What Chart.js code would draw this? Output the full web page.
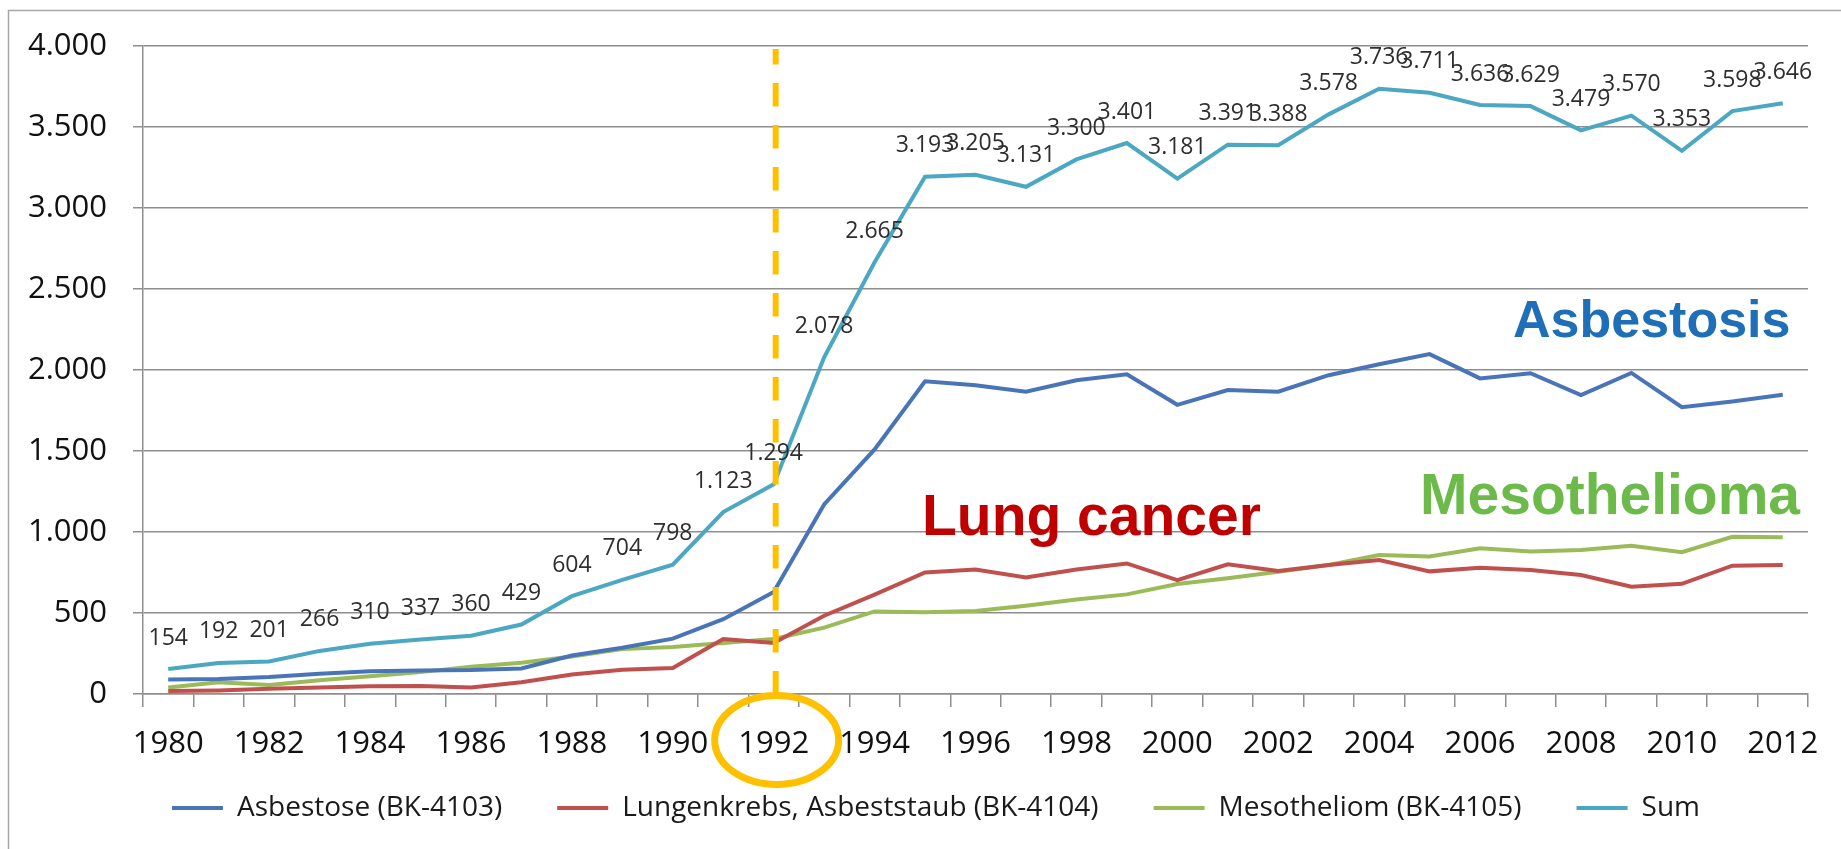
<!DOCTYPE html>
<html>
<head>
<meta charset="utf-8">
<script src="https://cdn.jsdelivr.net/npm/chart.js@4.4.1/dist/chart.umd.min.js"></script>
<style>
  html, body { margin: 0; padding: 0; background: #ffffff; }
  #wrap { position: relative; width: 1841px; height: 849px; }
  canvas { display: block; }
</style>
</head>
<body>
<div id="wrap"><canvas id="c" width="1841" height="849"></canvas></div>
<script>
// ---- data ----
const years = [1980,1981,1982,1983,1984,1985,1986,1987,1988,1989,1990,1991,1992,1993,1994,1995,1996,1997,1998,1999,2000,2001,2002,2003,2004,2005,2006,2007,2008,2009,2010,2011,2012];
const asbestose = [90,92,105,125,140,145,148,158,238,285,342,462,630,1170,1510,1930,1906,1866,1937,1974,1785,1876,1866,1968,2035,2098,1948,1980,1845,1982,1770,1806,1847];
const lungenkrebs = [18,22,32,40,48,50,40,72,120,150,160,340,315,483,613,750,769,720,769,806,703,801,760,796,827,757,779,765,734,662,680,792,797];
const mesotheliom = [40,72,55,85,110,135,168,193,232,277,290,315,340,410,510,505,512,545,584,615,679,714,755,796,858,849,899,879,889,915,875,970,968];
const sum = [154,192,201,266,310,337,360,429,604,704,798,1123,1294,2078,2665,3193,3205,3131,3300,3401,3181,3391,3388,3578,3736,3711,3636,3629,3479,3570,3353,3598,3646];
const seriesNames = ['Asbestose (BK-4103)', 'Lungenkrebs, Asbeststaub (BK-4104)', 'Mesotheliom (BK-4105)', 'Sum'];
const yTicks = [0,500,1000,1500,2000,2500,3000,3500,4000];
const markedYear = 1992;
const annotations = [
  { text: 'Asbestosis', color: '#1F6EB8', size: 52, x: 1513, y: 337 },
  { text: 'Lung cancer', color: '#C00000', size: 57, x: 922, y: 535 },
  { text: 'Mesothelioma', color: '#6CBB4A', size: 57, x: 1420, y: 514 }
];

// ---- styles ----
const colors = ['#4A74B8', '#C0504D', '#9BBB59', '#4BA7C2'];
const gridColor = '#8E8E8E';
const FONT = "'Open Sans', 'Liberation Sans', sans-serif";

function fmt(v) {
  v = Math.round(v);
  if (v >= 1000) {
    const r = v % 1000;
    return Math.floor(v / 1000) + '.' + String(r).padStart(3, '0');
  }
  return String(v);
}

Chart.defaults.font.family = FONT;

const frame = {
  id: 'frame',
  beforeDraw(chart) {
    const ctx = chart.ctx;
    ctx.save();
    ctx.fillStyle = '#ffffff';
    ctx.fillRect(0, 0, chart.width, chart.height);
    ctx.strokeStyle = '#A6A6A6';
    ctx.lineWidth = 1.5;
    ctx.beginPath();
    ctx.moveTo(8.5, chart.height);
    ctx.lineTo(8.5, 10.5);
    ctx.lineTo(chart.width, 10.5);
    ctx.stroke();
    ctx.restore();
  }
};

// move the legend box to sit just under the axis labels, centred like the original
const legendPlace = {
  id: 'legendPlace',
  afterLayout(chart) {
    const l = chart.legend;
    if (!l) return;
    l.top -= 26; l.bottom -= 26;
    l.left += 32; l.right += 32;
  }
};

const sumLabels = {
  id: 'sumLabels',
  afterDatasetsDraw(chart) {
    const ctx = chart.ctx;
    const meta = chart.getDatasetMeta(3);
    ctx.save();
    ctx.font = '23px ' + FONT;
    ctx.fillStyle = '#2E2E2E';
    ctx.textAlign = 'center';
    ctx.textBaseline = 'middle';
    meta.data.forEach((pt, i) => {
      ctx.fillText(fmt(sum[i]), pt.x, pt.y - 31);
    });
    ctx.restore();
  }
};

const marks = {
  id: 'marks',
  afterDraw(chart) {
    const ctx = chart.ctx;
    const xs = chart.scales.x, ys = chart.scales.y;
    const idx = years.indexOf(markedYear);
    const x = xs.getPixelForValue(idx) + 2;
    const top = ys.getPixelForValue(4000) + 3;
    const bottom = ys.getPixelForValue(0);
    ctx.save();
    ctx.strokeStyle = '#FFC000';
    ctx.lineWidth = 6;
    ctx.setLineDash([23.5, 18.5]);
    ctx.lineDashOffset = 8;
    ctx.beginPath();
    ctx.moveTo(x, top);
    ctx.lineTo(x, bottom);
    ctx.stroke();
    ctx.setLineDash([]);
    ctx.lineWidth = 7;
    ctx.beginPath();
    ctx.ellipse(x + 1, bottom + 46, 62, 44.5, 0, 0, Math.PI * 2);
    ctx.stroke();
    ctx.textAlign = 'left';
    ctx.textBaseline = 'alphabetic';
    annotations.forEach(a => {
      ctx.font = 'bold ' + a.size + "px 'Liberation Sans', Arial, sans-serif";
      ctx.fillStyle = a.color;
      ctx.fillText(a.text, a.x, a.y);
    });
    ctx.restore();
  }
};

const datasets = [asbestose, lungenkrebs, mesotheliom, sum].map((d, i) => ({
  label: seriesNames[i],
  data: d,
  borderColor: colors[i],
  backgroundColor: colors[i],
  borderWidth: 4,
  pointRadius: 0,
  pointHoverRadius: 0,
  tension: 0,
  fill: false
}));

new Chart(document.getElementById('c'), {
  type: 'line',
  data: { labels: years.map(String), datasets },
  options: {
    responsive: false,
    animation: false,
    devicePixelRatio: 1,
    layout: { padding: { left: 0, right: 33, top: 46, bottom: -9 } },
    plugins: {
      tooltip: { enabled: false },
      legend: {
        position: 'bottom',
        labels: {
          color: '#1A1A1A',
          font: { size: 28, family: FONT },
          boxWidth: 51,
          boxHeight: 4,
          padding: 55,
          generateLabels(chart) {
            return chart.data.datasets.map((ds, i) => ({
              text: ds.label,
              fillStyle: ds.borderColor,
              strokeStyle: ds.borderColor,
              lineWidth: 0,
              hidden: false,
              datasetIndex: i,
              fontColor: '#1A1A1A'
            }));
          }
        }
      }
    },
    scales: {
      x: {
        type: 'category',
        offset: true,
        afterFit(scale) { scale.height = 71; },
        grid: {
          offset: true,
          drawOnChartArea: false,
          drawTicks: true,
          tickLength: 13,
          color: gridColor,
          lineWidth: 1.5
        },
        border: { color: gridColor, width: 1.5 },
        ticks: {
          autoSkip: false,
          maxRotation: 0,
          minRotation: 0,
          padding: 19,
          color: '#111111',
          font: { size: 31, family: FONT },
          callback(val, i) { return i % 2 === 0 ? String(years[i]) : ''; }
        }
      },
      y: {
        min: 0,
        max: 4000,
        afterFit(scale) { scale.width = 143; },
        afterBuildTicks(scale) { scale.ticks = yTicks.map(v => ({ value: v })); },
        grid: {
          color: gridColor,
          lineWidth: 1.5,
          tickLength: 10
        },
        border: { color: gridColor, width: 1.5 },
        ticks: {
          padding: 26,
          color: '#111111',
          font: { size: 31, family: FONT },
          callback(v) { return fmt(v); }
        }
      }
    }
  },
  plugins: [frame, legendPlace, sumLabels, marks]
});
</script>
</body>
</html>
